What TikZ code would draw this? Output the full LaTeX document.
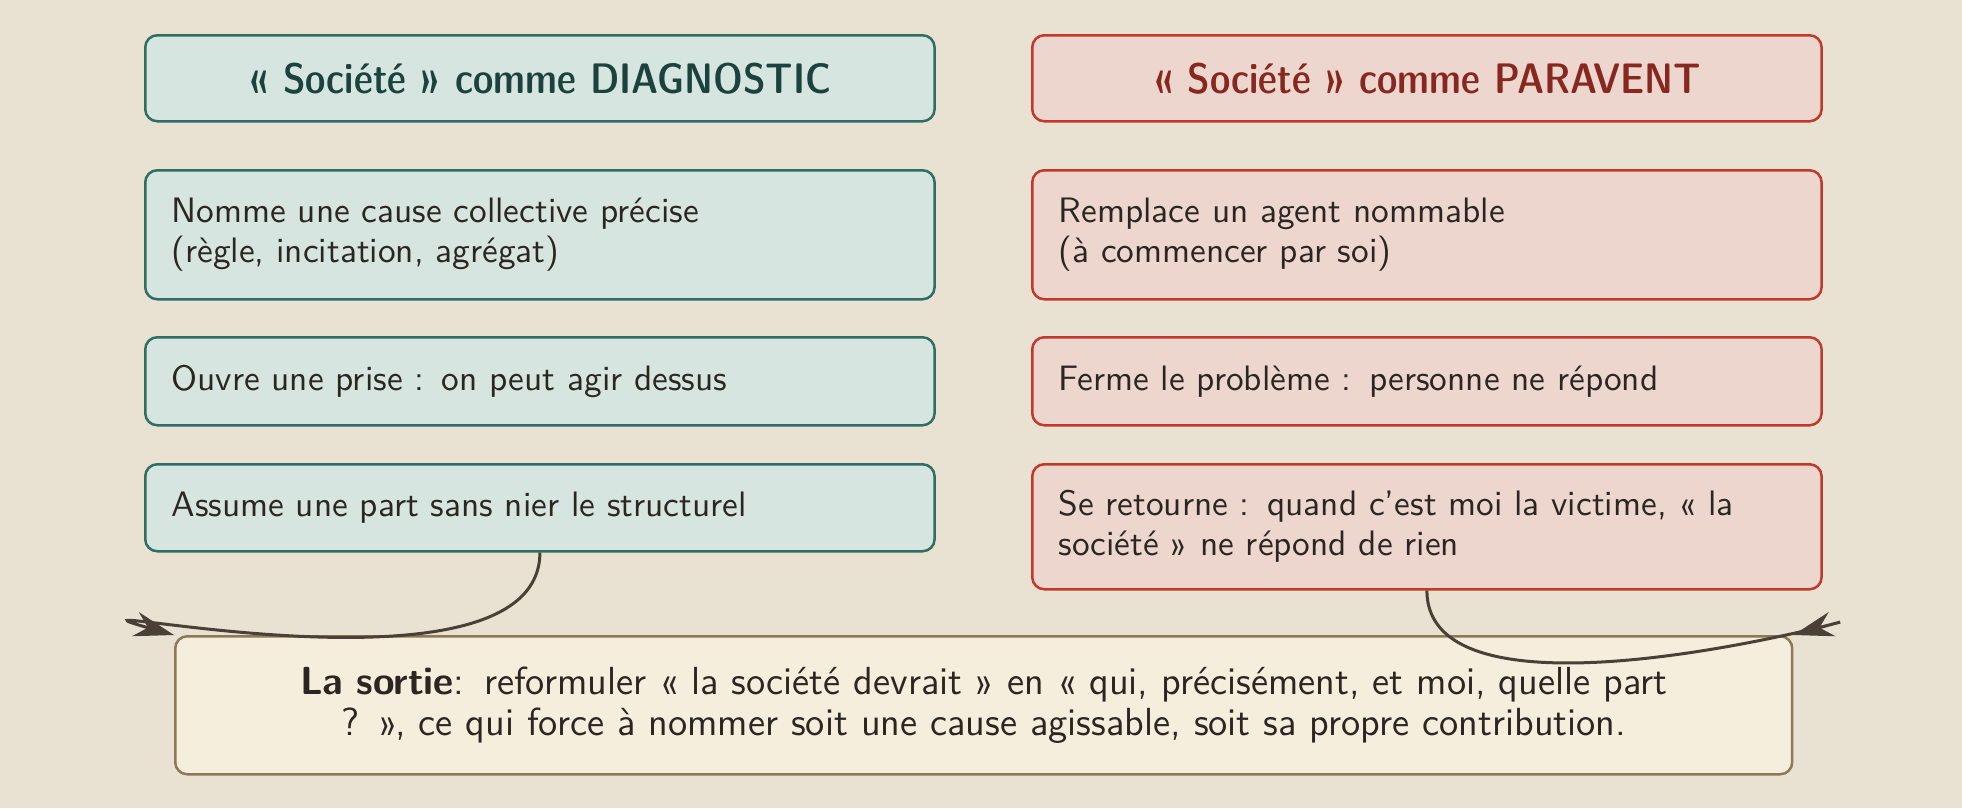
\documentclass[tikz,border=0pt]{standalone}
\usepackage{fontspec}
\setsansfont{Latin Modern Sans}[BoldFont={Latin Modern Sans Demi Cond}]
\newfontface\sobold{lmsans10-bold.otf}
\usetikzlibrary{arrows.meta}
\definecolor{bg}{RGB}{233,226,211}
\definecolor{ink}{RGB}{43,38,34}
\definecolor{dgfill}{RGB}{214,229,223}
\definecolor{dgline}{RGB}{47,110,100}
\definecolor{dgtext}{RGB}{27,66,61}
\definecolor{pvfill}{RGB}{236,214,205}
\definecolor{pvline}{RGB}{192,57,43}
\definecolor{pvtext}{RGB}{135,40,32}
\definecolor{sofill}{RGB}{245,238,221}
\definecolor{soline}{RGB}{139,122,85}
\definecolor{arrowc}{RGB}{74,64,53}
\tikzset{
  box/.style={draw, rounded corners=3.6pt, line width=0.75pt, inner xsep=7.9pt, inner ysep=0pt,
    text width=221pt, align=left, anchor=north west, text=ink},
  dgbox/.style={box, fill=dgfill, draw=dgline},
  pvbox/.style={box, fill=pvfill, draw=pvline},
  titlebox/.style={align=center, font=\sffamily\bfseries\fontsize{12.8}{15}\selectfont, minimum height=25.8pt},
  sortiebox/.style={box, fill=sofill, draw=soline, text width=469.3pt, align=center, minimum height=41.4pt,
    font=\sffamily\fontsize{11.75}{12.2}\selectfont},
  conn/.style={draw=arrowc, line width=0.9pt, -{Stealth[length=12pt,width=7.5pt]}}
}
\begin{document}
\begin{tikzpicture}[x=0.3pt, y=-0.3pt, font=\sffamily\fontsize{10.6}{12}\selectfont]
\useasboundingbox (0,0) rectangle (1962,808);
\fill[bg] (0,0) rectangle (1962,808);
% left column
\node[dgbox, titlebox, text=dgtext] (dt) at (144,34) {« Société » comme DIAGNOSTIC};
\node[dgbox, minimum height=38.7pt] (d1) at (144,169) {Nomme une cause collective précise\\(règle, incitation, agrégat)};
\node[dgbox, minimum height=26.4pt] (d2) at (144,336) {Ouvre une prise : on peut agir dessus};
\node[dgbox, minimum height=26.1pt] (d3) at (144,463) {Assume une part sans nier le structurel};
% right column
\node[pvbox, titlebox, text=pvtext] (pt) at (1031,34) {« Société » comme PARAVENT};
\node[pvbox, minimum height=38.7pt] (p1) at (1031,169) {Remplace un agent nommable\\(à commencer par soi)};
\node[pvbox, minimum height=26.4pt] (p2) at (1031,336) {Ferme le problème : personne ne répond};
\node[pvbox, minimum height=37.5pt] (p3) at (1031,463) {Se retourne : quand c’est moi la victime, « la\\société » ne répond de rien};
% exit
\node[sortiebox] (sortie) at (174,635) {{\sobold La sortie}: reformuler « la société devrait » en « qui, précisément, et moi, quelle part\\? », ce qui force à nommer soit une cause agissable, soit sa propre contribution.};
% connectors
\draw[conn] (d3.south) .. controls +(0,160) and +(-160,-45) .. (sortie.north west);
\draw[conn] (p3.south) .. controls +(0,160) and +(160,-45) .. (sortie.north east);
\end{tikzpicture}
\end{document}
